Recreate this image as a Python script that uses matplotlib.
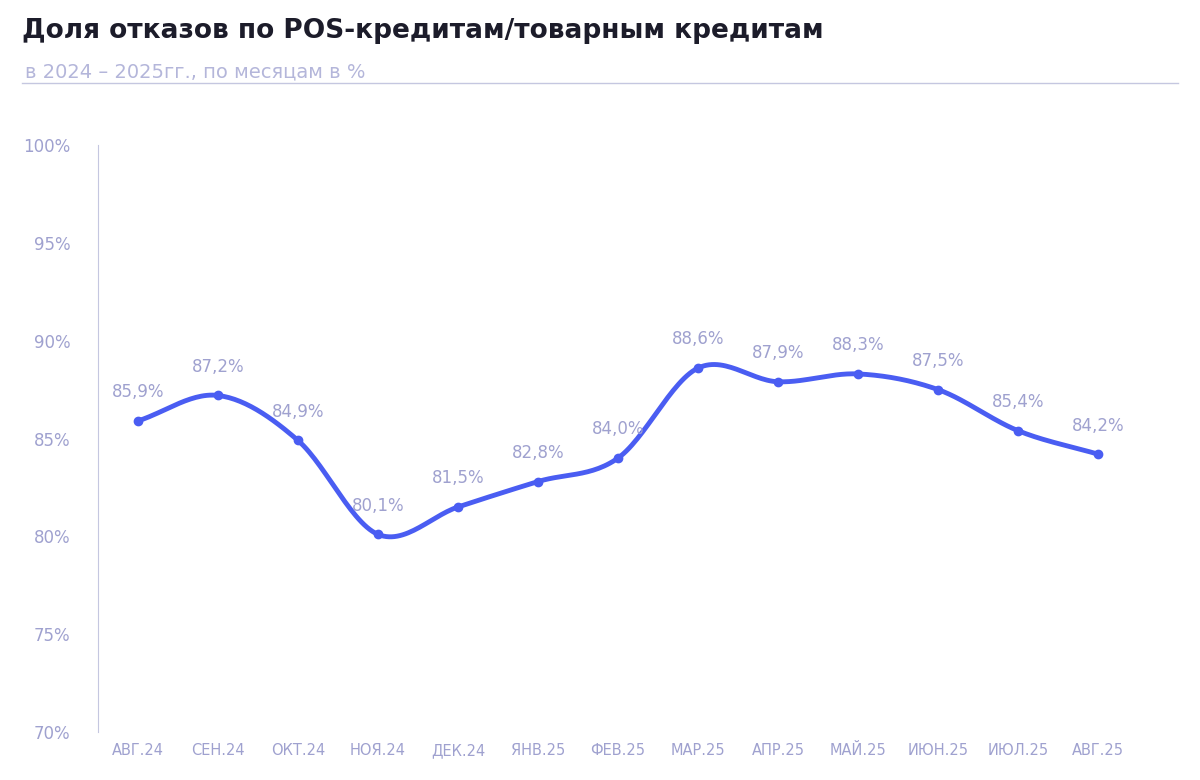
import matplotlib
matplotlib.use("Agg")
import matplotlib.pyplot as plt
import numpy as np

months = ["АВГ.24","СЕН.24","ОКТ.24","НОЯ.24","ДЕК.24","ЯНВ.25","ФЕВ.25","МАР.25","АПР.25","МАЙ.25","ИЮН.25","ИЮЛ.25","АВГ.25"]
values = [85.9,87.2,84.9,80.1,81.5,82.8,84.0,88.6,87.9,88.3,87.5,85.4,84.2]
yticks = [70,75,80,85,90,95,100]

LINE = "#4a5df2"
LAB = "#9fa1cf"

fig = plt.figure(figsize=(12,7.8), dpi=100)
fig.text(0.018, 0.977, "Доля отказов по POS-кредитам/товарным кредитам", fontsize=19, fontweight="bold", color="#1c1c2a", va="top", family="DejaVu Sans")
fig.text(0.021, 0.920, "в 2024 – 2025гг., по месяцам в %", fontsize=14, color="#b4b6da", va="top")
fig.add_artist(plt.Line2D([0.018,0.982],[0.893,0.893], color="#c5c7e0", lw=1))

ax = fig.add_axes([98/1200, 1-732/780, 1040/1200, 587/780])
x = np.arange(len(values)); y = np.array(values)
# Catmull-Rom smoothing between data points
P = np.vstack([x, y]).T
P = np.vstack([P[0]-(P[1]-P[0]), P, P[-1]+(P[-1]-P[-2])])
xs, ys = [], []
for i in range(1, len(P)-2):
    p0,p1,p2,p3 = P[i-1],P[i],P[i+1],P[i+2]
    t = np.linspace(0,1,30)[:,None]
    c = 0.5*((2*p1)+(-p0+p2)*t+(2*p0-5*p1+4*p2-p3)*t**2+(-p0+3*p1-3*p2+p3)*t**3)
    xs.extend(c[:,0]); ys.extend(c[:,1])
ax.plot(xs, ys, color=LINE, lw=3.5, solid_capstyle="round")
ax.plot(x, y, "o", color=LINE, ms=6)
for xi, yi in zip(x, y):
    ax.text(xi, yi+1.0, f"{yi:.1f}%".replace(".", ","), ha="center", va="bottom", fontsize=12, color=LAB)
ax.set_xlim(-0.5, 12.5); ax.set_ylim(70, 100)
ax.set_yticks(yticks); ax.set_yticklabels([f"{t}%" for t in yticks])
ax.set_xticks(x); ax.set_xticklabels(months)
ax.tick_params(axis="y", length=0, labelsize=12, labelcolor=LAB, pad=20)
ax.tick_params(axis="x", length=0, labelsize=10.5, labelcolor=LAB, pad=8)
for l in ax.get_xticklabels():
    l.set_fontproperties(matplotlib.font_manager.FontProperties(family="DejaVu Sans", size=10.5))
    l.set_color(LAB)
for s in ["top","right","bottom"]:
    ax.spines[s].set_visible(False)
ax.spines["left"].set_color("#c5c7e0")
fig.savefig("out.png", dpi=100)
